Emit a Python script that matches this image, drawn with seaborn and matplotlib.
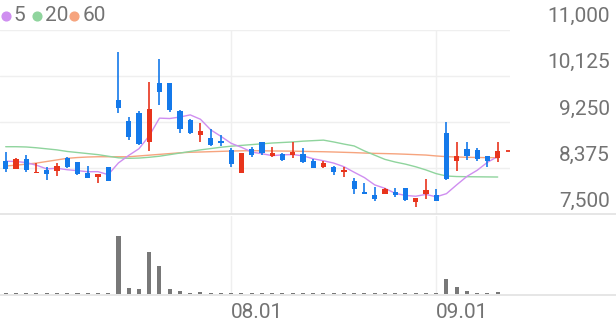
import matplotlib
matplotlib.use("Agg")
import matplotlib.pyplot as plt
import matplotlib.transforms as mtransforms
from matplotlib.lines import Line2D
import numpy as np
import pandas as pd
import seaborn as sns

# ---------------- data ----------------
dates = ["2025-07-02", "2025-07-03", "2025-07-04", "2025-07-07", "2025-07-08", "2025-07-09",
         "2025-07-10", "2025-07-11", "2025-07-14", "2025-07-15", "2025-07-16", "2025-07-17",
         "2025-07-18", "2025-07-21", "2025-07-22", "2025-07-23", "2025-07-24", "2025-07-25",
         "2025-07-28", "2025-07-29", "2025-07-30", "2025-07-31",
         "2025-08-01", "2025-08-04", "2025-08-05", "2025-08-06", "2025-08-07", "2025-08-08",
         "2025-08-11", "2025-08-12", "2025-08-13", "2025-08-14", "2025-08-18", "2025-08-19",
         "2025-08-20", "2025-08-21", "2025-08-22", "2025-08-25", "2025-08-26", "2025-08-27",
         "2025-08-28", "2025-08-29",
         "2025-09-01", "2025-09-02", "2025-09-03", "2025-09-04", "2025-09-05", "2025-09-08",
         "2025-09-09"]

open_ = [8510, 8364, 8542, 8290, 8339, 8326, 8572, 8484, 8277, 8201, 8390, 9659, 9267, 9424,
         8875, 9981, 9981, 9456, 9286, 9002, 8951, 8894, 8718, 8288, 8731, 8864, 8604, 8642,
         8623, 8642, 8513, 8390, 8402, 8301, 8136, 7920, 7865, 7884, 7916, 7990, 7739, 7884,
         7865, 9034, 8504, 8731, 8718, 8604, 8561]
high = [8680, 8560, 8623, 8466, 8396, 8477, 8591, 8500, 8415, 8269, 8400, 10580, 9348, 9456,
        10011, 10441, 9981, 9470, 9300, 9224, 9110, 9002, 8750, 8660, 8780, 8875, 8769, 8670,
        8875, 8763, 8547, 8510, 8415, 8402, 8182, 8087, 8011, 7990, 7998, 8000, 7810, 8163,
        7985, 9248, 8875, 8875, 8750, 8610, 8875]
low = [8295, 8350, 8307, 8290, 8150, 8231, 8383, 8240, 8182, 8087, 8130, 9413, 8907, 8805,
       8699, 9571, 9440, 9034, 9020, 8864, 8800, 8794, 8402, 8280, 8580, 8623, 8590, 8510,
       8560, 8477, 8370, 8370, 8245, 8201, 7884, 7880, 7758, 7880, 7822, 7760, 7644, 7784,
       7746, 8150, 8320, 8528, 8515, 8390, 8490]
close = [8358, 8547, 8339, 8300, 8258, 8420, 8401, 8258, 8193, 8269, 8136, 9508, 8970, 8826,
         9489, 9811, 9473, 9110, 9034, 9072, 8813, 8850, 8453, 8655, 8623, 8655, 8667, 8528,
         8686, 8497, 8383, 8477, 8307, 8339, 7974, 7880, 7784, 7985, 7865, 7771, 7803, 7960,
         7758, 8163, 8604, 8604, 8541, 8515, 8705]
volume = [18000, 21000, 17000, 15000, 19000, 16000, 14000, 20000, 17000, 15000, 22000,
          1166000, 114000, 106000, 846000, 554000, 94000, 66000, 26000, 40000, 26000, 20000,
          26000, 20000, 20000, 18000, 18000, 18000, 30000, 18000, 18000, 18000, 18000, 18000,
          30000, 18000, 18000, 18000, 18000, 18000, 18000, 18000, 18000,
          300000, 134000, 66000, 26000, 14000, 40000]

ma5 = [8505, 8500, 8480, 8430, 8360, 8373, 8344, 8327, 8306, 8308, 8251, 8473, 8615, 8742,
       8986, 9321, 9314, 9342, 9383, 9300, 9100, 8976, 8844, 8769, 8679, 8647, 8611, 8626,
       8632, 8607, 8552, 8514, 8470, 8401, 8296, 8195, 8057, 7992, 7898, 7857, 7842, 7877,
       7831, 7891, 8058, 8218, 8334, 8485, 8594]
ma20 = [8780, 8780, 8775, 8760, 8740, 8720, 8690, 8670, 8650, 8630, 8600, 8570, 8560, 8565,
        8580, 8600, 8630, 8660, 8690, 8720, 8745, 8770, 8790, 8805, 8820, 8835, 8850, 8860,
        8870, 8885, 8895, 8905, 8870, 8830, 8794, 8700, 8620, 8540, 8490, 8450, 8400, 8340,
        8270, 8225, 8215, 8212, 8210, 8208, 8206]
ma60 = [8415, 8430, 8450, 8470, 8500, 8530, 8560, 8575, 8585, 8590, 8590, 8590, 8590, 8605,
        8620, 8635, 8650, 8665, 8675, 8680, 8686, 8692, 8698, 8702, 8705, 8703, 8700, 8698,
        8696, 8692, 8688, 8685, 8680, 8674, 8668, 8660, 8654, 8650, 8645, 8638, 8630, 8622,
        8605, 8592, 8585, 8580, 8576, 8573, 8572]

price_ticks = [7500, 8375, 9250, 10125, 11000]
price_tick_labels = ["7,500", "8,375", "9,250", "10,125", "11,000"]
month_ticks = ["2025-08-01", "2025-09-01"]
month_tick_labels = ["08.01", "09.01"]
legend_labels = ["5", "20", "60"]

# ---------------- style ----------------
UP = "#e8341c"
DOWN = "#1479ea"
MA_COLORS = ["#cf8ef0", "#8fd49d", "#f6a47e"]
TEXT = "#737373"
GRID = "#efefef"
AXLINE = "#e2e2e2"
VOLC = "#787878"

sns.set_theme(style="white")
plt.rcParams["font.family"] = ["Roboto", "DejaVu Sans"]

W, H = 616, 321
fig = plt.figure(figsize=(W / 100, H / 100), dpi=100)


def fy(px):
    return 1 - px / H


x_left = -5.7 / 10.25
x_right = (510 - 5.7) / 10.25

ax = fig.add_axes([0, fy(214.3), 510 / W, (214.3 - 29.5) / H])
axv = fig.add_axes([0, fy(294), 510 / W, (294 - 216) / H])

df = pd.DataFrame({"date": dates, "open": open_, "high": high, "low": low,
                   "close": close, "volume": volume, "ma5": ma5, "ma20": ma20, "ma60": ma60})
df["i"] = np.arange(len(df))
df["up"] = df["close"] >= df["open"]
df["color"] = np.where(df["up"], UP, DOWN)

tick_pos = [dates.index(d) for d in month_ticks]

# price grid
ax.set_xlim(x_left, x_right)
ax.set_ylim(7500, 11000)
ax.set_yticks(price_ticks)
ax.set_xticks(tick_pos)
ax.grid(True, color=GRID, lw=1)
ax.tick_params(left=False, bottom=False, labelleft=False, labelbottom=False)
for s in ax.spines.values():
    s.set_visible(False)

# moving averages
for col, c in zip(["ma60", "ma20", "ma5"], [MA_COLORS[2], MA_COLORS[1], MA_COLORS[0]]):
    sns.lineplot(data=df, x="i", y=col, ax=ax, color=c, lw=1.0, zorder=2)
ax.set_xlabel("")
ax.set_ylabel("")

# candles
ax.vlines(df["i"], df["low"], df["high"], colors=df["color"], lw=1.2, zorder=3)
body_bottom = np.minimum(df["open"], df["close"])
body_h = np.maximum(np.abs(df["close"] - df["open"]), 18)
ax.bar(df["i"], body_h, bottom=body_bottom, width=0.5, color=df["color"], lw=0, zorder=4)

# current price marker
ax.hlines(close[-1], len(close) - 1 + 0.78, len(close) - 1 + 1.17, colors=UP, lw=1.3, zorder=4)

# price labels on the right
trans = mtransforms.blended_transform_factory(fig.transFigure, ax.transData)
off = mtransforms.ScaledTranslation(0, 13 / 100, fig.dpi_scale_trans)
for v, lab in zip(price_ticks, price_tick_labels):
    ax.text(610 / W, v, lab, transform=trans + off, ha="right", va="center",
            fontsize=15, color=TEXT, fontweight="normal", clip_on=False)

# volume
axv.set_xlim(x_left, x_right)
axv.set_ylim(0, 1560000)
axv.bar(df["i"], df["volume"], width=0.4, color=VOLC, lw=0, zorder=3)
axv.set_xticks(tick_pos)
axv.set_xticklabels(month_tick_labels, ha="left")
axv.set_yticks([])
axv.grid(True, axis="x", color=GRID, lw=1)
axv.tick_params(axis="x", length=0, pad=6.5, labelsize=15, labelcolor=TEXT)
for s in axv.spines.values():
    s.set_visible(False)

# full-width separator lines
for ypx in (214.3, 294.5):
    fig.add_artist(Line2D([0, 1], [fy(ypx), fy(ypx)], transform=fig.transFigure,
                          color=AXLINE, lw=1.2))

# legend
leg_x = [(5.8, 13.0), (36.7, 44.5), (74.0, 82.5)]
for (cx, tx), c, lab in zip(leg_x, MA_COLORS, legend_labels):
    fig.add_artist(Line2D([cx / W], [fy(15.5)], transform=fig.transFigure, marker="o",
                          ms=6.3, color=c, ls=""))
    fig.text(tx / W, fy(15.5), lab, ha="left", va="center", fontsize=15,
             color=TEXT, fontweight="normal")

fig.savefig("out.png", dpi=100)
